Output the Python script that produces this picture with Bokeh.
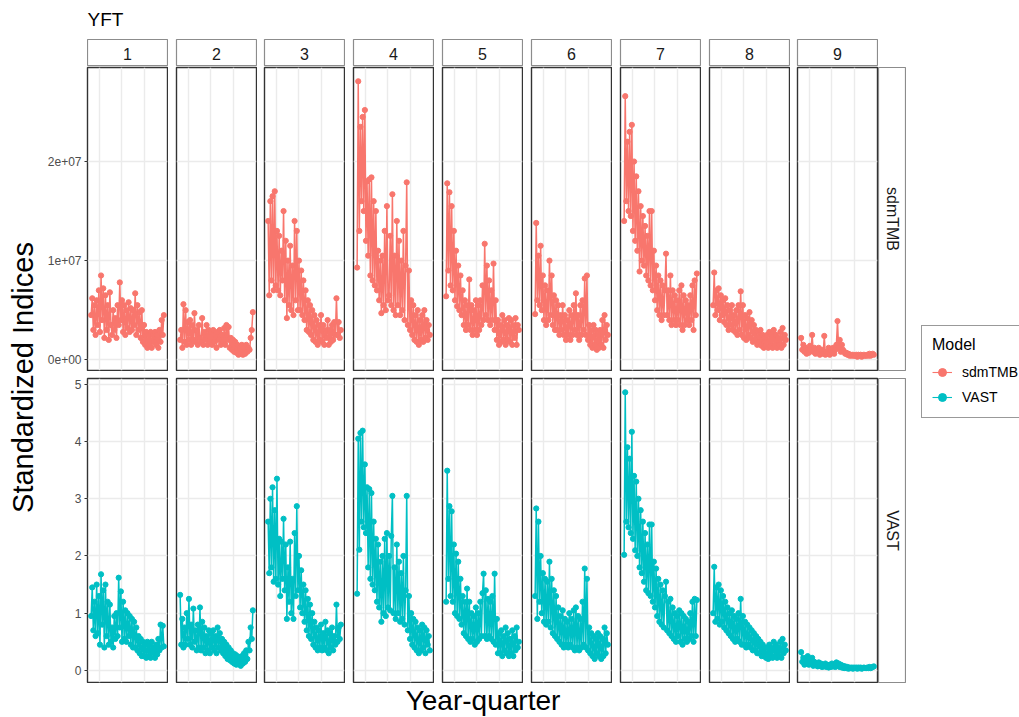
import math
from bokeh.plotting import figure
from bokeh.models import (Range1d, FixedTicker, Label, Legend, LegendItem, Spacer,
                          ColumnDataSource, Grid)
from bokeh.layouts import row, column
from bokeh.embed import file_html
from bokeh.resources import INLINE

# ---------------- data ----------------
YEARS = list(range(1952, 2019))          # one sample per year (year-quarter axis)
REGIONS = ["1", "2", "3", "4", "5", "6", "7", "8", "9"]
MODELS = ["sdmTMB", "VAST"]
SPECIES = "YFT"
SDM_UNIT = 1e7   # sdmTMB values below are given in units of 1e7

sdm_1 = [0.45, 0.62, 0.30, 0.55, 0.25, 0.60, 0.35, 0.70, 0.28,
         0.85, 0.40, 0.72, 0.22, 0.65, 0.30, 0.55, 0.20, 0.68, 0.35,
         0.25, 0.50, 0.30, 0.42, 0.22, 0.55, 0.35, 0.78, 0.40, 0.60,
         0.28, 0.55, 0.25, 0.50, 0.32, 0.58, 0.28, 0.52, 0.30, 0.50,
         0.35, 0.67, 0.25, 0.55, 0.30, 0.48, 0.22, 0.50, 0.18, 0.35,
         0.15, 0.28, 0.12, 0.25, 0.15, 0.28, 0.12, 0.25, 0.18, 0.28,
         0.15, 0.25, 0.12, 0.30, 0.18, 0.40, 0.25, 0.45]
sdm_2 = [0.20, 0.30, 0.12, 0.56, 0.18, 0.50, 0.15, 0.38, 0.20,
         0.40, 0.15, 0.35, 0.20, 0.47, 0.18, 0.30, 0.15, 0.35, 0.22,
         0.18, 0.42, 0.15, 0.28, 0.20, 0.35, 0.15, 0.30, 0.18, 0.28,
         0.15, 0.30, 0.18, 0.25, 0.12, 0.28, 0.20, 0.30, 0.15, 0.25,
         0.18, 0.32, 0.15, 0.35, 0.20, 0.33, 0.12, 0.22, 0.10, 0.20,
         0.08, 0.18, 0.07, 0.15, 0.05, 0.12, 0.06, 0.15, 0.05, 0.12,
         0.06, 0.15, 0.08, 0.12, 0.10, 0.22, 0.30, 0.48]
sdm_3 = [1.40, 0.65, 1.60, 0.80, 1.65, 0.70, 1.70, 0.75, 1.30,
         0.70, 1.25, 0.65, 1.10, 0.80, 1.50, 0.60, 1.20, 0.42, 1.00,
         0.55, 1.15, 0.50, 0.95, 0.45, 1.40, 0.60, 1.30, 0.50, 1.00,
         0.50, 0.90, 0.45, 0.80, 0.40, 0.70, 0.30, 0.60, 0.28, 0.55,
         0.25, 0.50, 0.20, 0.45, 0.18, 0.40, 0.15, 0.35, 0.20, 0.45,
         0.18, 0.35, 0.15, 0.30, 0.22, 0.40, 0.15, 0.30, 0.18, 0.35,
         0.20, 0.38, 0.25, 0.62, 0.25, 0.38, 0.22, 0.30]
sdm_4 = [0.93, 2.81, 1.30, 2.35, 1.60, 2.45, 1.50, 2.52, 1.20,
         1.80, 1.05, 1.82, 0.85, 1.84, 0.80, 1.60, 0.75, 1.50, 0.70,
         1.10, 0.60, 1.00, 0.47, 1.05, 0.55, 1.30, 0.50, 1.55, 0.60,
         0.65, 1.25, 0.55, 1.67, 0.50, 1.05, 0.45, 1.40, 0.55, 1.20,
         0.45, 1.00, 0.50, 1.30, 0.40, 0.95, 1.79, 0.35, 0.90, 0.30,
         0.60, 0.25, 0.55, 0.20, 0.45, 0.18, 0.50, 0.15, 0.40, 0.20,
         0.45, 0.18, 0.50, 0.22, 0.40, 0.20, 0.35, 0.25]
sdm_5 = [0.64, 1.78, 0.90, 1.69, 0.75, 1.55, 0.70, 1.30, 0.60,
         1.10, 0.54, 0.95, 0.50, 0.85, 0.45, 0.70, 0.35, 0.60, 0.30,
         0.55, 0.35, 0.81, 0.30, 0.55, 0.25, 0.50, 0.30, 0.60, 0.25,
         0.55, 0.30, 0.60, 0.35, 0.75, 0.40, 1.17, 0.45, 0.95, 0.40,
         0.80, 0.35, 0.70, 0.40, 0.97, 0.30, 0.60, 0.20, 0.40, 0.15,
         0.35, 0.18, 0.45, 0.20, 0.40, 0.15, 0.35, 0.20, 0.42, 0.18,
         0.40, 0.15, 0.35, 0.22, 0.42, 0.15, 0.35, 0.30]
sdm_6 = [0.46, 1.38, 0.60, 1.05, 0.55, 1.15, 0.50, 0.85, 0.40,
         0.75, 0.35, 0.70, 0.40, 1.00, 0.45, 0.85, 0.35, 0.65, 0.30,
         0.60, 0.30, 0.55, 0.25, 0.45, 0.30, 0.55, 0.25, 0.45, 0.20,
         0.40, 0.25, 0.50, 0.20, 0.45, 0.25, 0.55, 0.30, 0.67, 0.25,
         0.45, 0.20, 0.55, 0.25, 0.60, 0.30, 0.82, 0.25, 0.85, 0.20,
         0.35, 0.15, 0.30, 0.12, 0.35, 0.15, 0.30, 0.10, 0.25, 0.12,
         0.30, 0.15, 0.40, 0.12, 0.45, 0.20, 0.35, 0.25]
sdm_7 = [1.40, 2.66, 1.60, 2.20, 1.50, 2.30, 1.45, 2.37, 1.30,
         2.00, 1.20, 1.85, 1.10, 1.70, 0.89, 1.55, 1.00, 1.45, 0.95,
         1.35, 0.85, 1.25, 0.80, 1.50, 0.75, 1.50, 0.70, 1.10, 0.60,
         0.95, 0.50, 0.85, 0.45, 0.80, 0.40, 0.75, 0.45, 0.70, 1.07,
         0.45, 0.70, 0.40, 0.85, 0.35, 0.70, 0.40, 0.65, 0.35, 0.60,
         0.40, 0.70, 0.35, 0.75, 0.30, 0.65, 0.35, 0.60, 0.40, 0.55,
         0.35, 0.65, 0.40, 0.75, 0.30, 0.80, 0.45, 0.87]
sdm_8 = [0.55, 0.88, 0.45, 0.70, 0.50, 0.72, 0.40, 0.65, 0.45,
         0.60, 0.38, 0.62, 0.35, 0.55, 0.30, 0.50, 0.35, 0.55, 0.30,
         0.45, 0.28, 0.50, 0.25, 0.55, 0.30, 0.69, 0.25, 0.55, 0.22,
         0.45, 0.20, 0.42, 0.25, 0.48, 0.22, 0.40, 0.18, 0.35, 0.20,
         0.30, 0.15, 0.28, 0.18, 0.30, 0.14, 0.25, 0.12, 0.22, 0.14,
         0.25, 0.12, 0.28, 0.14, 0.25, 0.12, 0.30, 0.15, 0.25, 0.12,
         0.22, 0.15, 0.28, 0.12, 0.32, 0.15, 0.25, 0.20]
sdm_9 = [0.22, 0.10, 0.15, 0.08, 0.12, 0.06, 0.10, 0.07, 0.14,
         0.10, 0.25, 0.08, 0.12, 0.06, 0.10, 0.07, 0.12, 0.05, 0.09,
         0.10, 0.06, 0.24, 0.05, 0.08, 0.06, 0.12, 0.05, 0.10, 0.07,
         0.12, 0.06, 0.10, 0.15, 0.39, 0.12, 0.20, 0.08, 0.15, 0.10,
         0.08, 0.06, 0.07, 0.05, 0.06, 0.04, 0.05, 0.04, 0.05, 0.04,
         0.04, 0.05, 0.03, 0.05, 0.04, 0.05, 0.03, 0.04, 0.05, 0.04,
         0.04, 0.05, 0.04, 0.06, 0.04, 0.05, 0.06, 0.05]

vast_1 = [0.95, 1.45, 0.70, 1.20, 0.60, 1.50, 0.65, 1.30, 0.45,
          1.68, 0.80, 1.40, 0.40, 1.50, 0.60, 1.20, 0.45, 1.15, 0.50,
          0.75, 0.40, 0.95, 0.55, 1.00, 0.60, 1.62, 0.75, 1.38, 0.50,
          1.20, 0.55, 1.05, 0.50, 1.00, 0.60, 0.95, 0.45, 0.90, 0.40,
          0.85, 0.40, 0.75, 0.35, 0.60, 0.30, 0.55, 0.25, 0.50, 0.25,
          0.45, 0.22, 0.50, 0.25, 0.45, 0.22, 0.50, 0.30, 0.40, 0.22,
          0.45, 0.28, 0.55, 0.35, 0.80, 0.40, 0.78, 0.42]
vast_2 = [1.32, 0.45, 0.90, 0.40, 0.75, 0.45, 1.00, 0.55, 1.25,
          0.45, 0.80, 0.40, 1.08, 0.50, 0.70, 0.35, 0.80, 0.40, 1.10,
          0.35, 0.85, 0.40, 0.75, 0.30, 0.60, 0.35, 0.70, 0.30, 0.65,
          0.40, 0.70, 0.35, 0.60, 0.30, 0.75, 0.40, 0.65, 0.35, 0.55,
          0.30, 0.50, 0.25, 0.45, 0.20, 0.40, 0.18, 0.35, 0.15, 0.30,
          0.12, 0.28, 0.10, 0.25, 0.12, 0.22, 0.08, 0.25, 0.12, 0.30,
          0.15, 0.35, 0.20, 0.50, 0.35, 0.75, 0.55, 1.05]
vast_3 = [2.60, 1.70, 3.00, 1.80, 3.20, 1.55, 2.80, 1.60, 3.35,
          1.50, 2.30, 1.30, 2.25, 1.60, 2.65, 1.40, 2.20, 0.90, 1.80,
          1.20, 2.25, 1.00, 1.60, 0.90, 2.40, 1.30, 2.87, 1.40, 2.00,
          1.10, 1.75, 1.00, 1.50, 0.85, 1.40, 0.70, 1.25, 0.60, 1.15,
          0.55, 1.00, 0.45, 0.85, 0.40, 0.75, 0.35, 0.70, 0.40, 0.80,
          0.35, 0.65, 0.40, 0.85, 0.35, 0.70, 0.30, 0.65, 0.40, 0.75,
          0.35, 0.60, 0.45, 1.15, 0.50, 0.75, 0.55, 0.80]
vast_4 = [1.34, 4.05, 2.11, 4.15, 2.60, 4.19, 2.50, 3.60, 2.40,
          3.20, 1.80, 3.17, 1.60, 3.10, 1.50, 2.60, 1.40, 2.30, 1.20,
          2.20, 1.10, 1.90, 0.85, 2.00, 1.00, 2.30, 0.95, 2.40, 1.10,
          2.00, 1.05, 2.35, 3.05, 1.00, 1.80, 0.90, 2.20, 1.00, 1.90,
          0.85, 1.70, 0.90, 2.00, 0.80, 1.40, 3.05, 0.70, 1.30, 0.55,
          1.00, 0.45, 0.90, 0.40, 0.85, 0.35, 0.75, 0.30, 0.70, 0.35,
          0.80, 0.40, 0.75, 0.30, 0.70, 0.45, 0.60, 0.35]
vast_5 = [1.20, 3.49, 1.60, 2.87, 1.30, 2.78, 1.20, 2.20, 1.00,
          2.04, 0.95, 1.90, 0.90, 1.60, 0.80, 1.30, 0.65, 1.20, 0.60,
          1.43, 0.55, 1.20, 0.50, 1.00, 0.55, 0.95, 0.45, 1.10, 0.50,
          1.00, 0.55, 1.20, 0.60, 1.35, 1.69, 0.60, 1.40, 0.55, 1.25,
          0.60, 1.20, 0.55, 1.30, 0.50, 1.69, 0.45, 0.90, 0.30, 0.65,
          0.30, 0.70, 0.25, 0.60, 0.35, 0.75, 0.30, 0.65, 0.25, 0.55,
          0.30, 0.70, 0.25, 0.60, 0.35, 0.75, 0.40, 0.50]
vast_6 = [1.30, 2.83, 0.90, 2.60, 1.20, 2.00, 1.00, 1.70, 0.85,
          1.60, 0.80, 1.55, 0.85, 1.90, 0.75, 1.60, 0.65, 1.40, 0.60,
          1.30, 0.55, 1.10, 0.50, 0.95, 0.45, 1.05, 0.40, 0.90, 0.45,
          0.85, 0.40, 1.00, 0.45, 0.90, 0.40, 1.05, 0.35, 1.10, 0.40,
          0.95, 0.35, 0.90, 0.40, 1.20, 0.45, 1.78, 0.40, 1.60, 0.35,
          0.75, 0.30, 0.65, 0.25, 0.60, 0.20, 0.55, 0.30, 0.65, 0.25,
          0.60, 0.20, 0.55, 0.25, 0.75, 0.30, 0.65, 0.45]
vast_7 = [2.02, 4.86, 2.60, 3.90, 2.50, 3.70, 2.40, 4.17, 2.30,
          3.40, 2.10, 3.30, 2.00, 3.00, 1.80, 2.80, 1.70, 2.60, 1.55,
          2.40, 1.40, 2.20, 1.35, 2.55, 1.30, 2.55, 1.20, 1.90, 1.10,
          1.78, 0.95, 1.60, 0.85, 1.50, 0.80, 1.40, 0.75, 1.30, 1.55,
          0.70, 1.20, 0.65, 1.25, 0.60, 1.10, 0.55, 1.00, 0.50, 0.95,
          0.60, 1.05, 0.50, 1.00, 0.45, 0.95, 0.55, 0.90, 0.50, 0.85,
          0.55, 1.00, 0.60, 1.20, 0.50, 1.25, 0.60, 1.23]
vast_8 = [1.00, 1.81, 0.85, 1.45, 0.90, 1.50, 0.80, 1.40, 0.85,
          1.30, 0.75, 1.20, 0.70, 1.10, 0.65, 1.00, 0.60, 1.05, 0.55,
          0.95, 0.50, 0.90, 0.55, 1.00, 0.50, 1.25, 0.45, 0.95, 0.45,
          0.85, 0.40, 0.80, 0.45, 0.75, 0.40, 0.70, 0.35, 0.65, 0.35,
          0.60, 0.30, 0.55, 0.30, 0.50, 0.25, 0.45, 0.25, 0.40, 0.22,
          0.40, 0.20, 0.45, 0.25, 0.40, 0.22, 0.50, 0.25, 0.45, 0.22,
          0.40, 0.25, 0.50, 0.22, 0.55, 0.30, 0.45, 0.35]
vast_9 = [0.32, 0.15, 0.22, 0.10, 0.18, 0.12, 0.25, 0.10, 0.20,
          0.12, 0.22, 0.08, 0.15, 0.10, 0.12, 0.07, 0.14, 0.08, 0.12,
          0.06, 0.10, 0.07, 0.12, 0.06, 0.09, 0.05, 0.10, 0.06, 0.12,
          0.07, 0.10, 0.06, 0.14, 0.08, 0.12, 0.06, 0.10, 0.05, 0.08,
          0.04, 0.07, 0.04, 0.06, 0.03, 0.05, 0.04, 0.05, 0.03, 0.05,
          0.04, 0.05, 0.03, 0.05, 0.04, 0.05, 0.03, 0.04, 0.05, 0.04,
          0.04, 0.05, 0.04, 0.06, 0.04, 0.05, 0.06, 0.07]

SDM = [sdm_1, sdm_2, sdm_3, sdm_4, sdm_5, sdm_6, sdm_7, sdm_8, sdm_9]
VAST = [vast_1, vast_2, vast_3, vast_4, vast_5, vast_6, vast_7, vast_8, vast_9]

TOP_TICKS = [0, 10000000, 20000000]
TOP_TICK_LABELS = ["0e+00", "1e+07", "2e+07"]
BOTTOM_TICKS = [0, 1, 2, 3, 4, 5]
X_GRID = [1960, 1980, 2000]

# ---------------- style ----------------
FONT = "Liberation Sans"
COLORS = {"sdmTMB": "#F8766D", "VAST": "#00BFC4"}
GRID_C = "#EBEBEB"
BORDER_C = "#333333"
STRIP_C = "#8C8C8C"
GAPS = [0, 9, 8, 9, 9, 9, 9, 9, 8]
FRAME_W = 80
LEFT_AXIS = 47
YLAB_W = 40
MAIN_W = LEFT_AXIS + 9 * FRAME_W + 1 + sum(GAPS[1:])
PT_SIZE = 5.2
LN_W = 1.5


def padded(vals):
    lo, hi = min(vals), max(vals)
    pad = 0.05 * (hi - lo)
    return lo - pad, hi + pad


def base_fig(w, h, l, r, t, b, **kw):
    p = figure(width=w, height=h, output_backend="svg", toolbar_location=None,
               min_border_left=l, min_border_right=r, min_border_top=t, min_border_bottom=b,
               background_fill_color="white", border_fill_color="white", **kw)
    return p


def aux_fig(w, h, l=0, r=0, t=0, b=0):
    p = base_fig(w, h, l, r, t, b, x_range=Range1d(0, 1), y_range=Range1d(0, 1),
                 x_axis_location=None, y_axis_location=None)
    p.grid.visible = False
    p.outline_line_color = None
    return p


for arr in SDM + VAST:
    assert len(arr) == len(YEARS)

x_lo, x_hi = padded(YEARS)
sdm_all = [v * SDM_UNIT for a in SDM for v in a]
vast_all = [v for a in VAST for v in a]
top_lo, top_hi = padded(sdm_all)
bot_lo, bot_hi = padded(vast_all)


def panel(k, model, vals, top):
    if top:
        h, mbt, yr, yticks = 305, 1, Range1d(top_lo, top_hi), TOP_TICKS
    else:
        h, mbt, yr, yticks = 312, 7, Range1d(bot_lo, bot_hi), BOTTOM_TICKS
    if k == 0:
        w, mbl = LEFT_AXIS + FRAME_W + 1, LEFT_AXIS
    else:
        w, mbl = GAPS[k] + FRAME_W, GAPS[k] - 1
    p = base_fig(w, h, mbl, 1, mbt, 1, x_range=Range1d(x_lo, x_hi), y_range=yr,
                 x_axis_location=None, y_axis_location=("left" if k == 0 else None))
    p.grid.visible = False
    p.add_layout(Grid(dimension=0, ticker=FixedTicker(ticks=X_GRID),
                      grid_line_color=GRID_C, grid_line_width=1.4))
    p.add_layout(Grid(dimension=1, ticker=FixedTicker(ticks=yticks),
                      grid_line_color=GRID_C, grid_line_width=1.4))
    p.outline_line_color = BORDER_C
    p.outline_line_width = 1.4
    scale = SDM_UNIT if model == "sdmTMB" else 1.0
    src = ColumnDataSource(dict(x=YEARS, y=[v * scale for v in vals]))
    c = COLORS[model]
    p.line("x", "y", source=src, line_color=c, line_width=LN_W)
    p.scatter("x", "y", source=src, size=PT_SIZE, fill_color=c, line_color=c)
    if k == 0:
        ax = p.yaxis[0]
        ax.ticker = FixedTicker(ticks=yticks)
        if top:
            ax.major_label_overrides = dict(zip(TOP_TICKS, TOP_TICK_LABELS))
        ax.axis_line_color = None
        ax.major_tick_line_color = BORDER_C
        ax.major_tick_out = 3
        ax.major_tick_in = 0
        ax.minor_tick_line_color = None
        ax.major_label_standoff = 3
        ax.major_label_text_font = FONT
        ax.major_label_text_font_size = "12px"
        ax.major_label_text_color = "#4D4D4D"
    return p


# strips on top
strip_figs = [Spacer(width=LEFT_AXIS, height=28)]
for k, reg in enumerate(REGIONS):
    if k == 0:
        s = aux_fig(FRAME_W + 1, 28, 0, 1, 1, 0)
    else:
        s = aux_fig(GAPS[k] + FRAME_W, 28, GAPS[k] - 1, 1, 1, 0)
    s.outline_line_color = STRIP_C
    s.outline_line_width = 1.2
    s.add_layout(Label(x=0.5, y=0.45, text=reg, text_align="center", text_baseline="middle",
                       text_font=FONT, text_font_size="16px", text_color="#1A1A1A"))
    strip_figs.append(s)
strips_row = row(strip_figs)

top_row = row([panel(k, "sdmTMB", SDM[k], True) for k in range(9)])
bottom_row = row([panel(k, "VAST", VAST[k], False) for k in range(9)])

title_fig = aux_fig(MAIN_W, 38)
title_fig.add_layout(Label(x=LEFT_AXIS, y=19, x_units="screen", y_units="screen", text=SPECIES,
                           text_align="left", text_baseline="middle",
                           text_font=FONT, text_font_size="19px", text_color="#000000"))

xlab_fig = aux_fig(MAIN_W, 34)
xlab_fig.add_layout(Label(x=LEFT_AXIS + (MAIN_W - LEFT_AXIS) / 2, y=17, x_units="screen", y_units="screen",
                          text="Year-quarter", text_align="center", text_baseline="middle",
                          text_font=FONT, text_font_size="28px", text_color="#000000"))

ylab_fig = aux_fig(YLAB_W, 717)
ylab_fig.add_layout(Label(x=22, y=717 - 377, x_units="screen", y_units="screen",
                          text="Standardized Indices", angle=math.pi / 2,
                          text_align="center", text_baseline="middle",
                          text_font=FONT, text_font_size="29px", text_color="#000000"))

main_col = column(title_fig, strips_row, top_row, bottom_row, xlab_fig)

# right strips
rs_sdm = aux_fig(28, 305, 0, 1, 1, 1)
rs_vast = aux_fig(28, 312, 0, 1, 7, 1)
for s, name in ((rs_sdm, MODELS[0]), (rs_vast, MODELS[1])):
    s.outline_line_color = STRIP_C
    s.outline_line_width = 1.2
    s.add_layout(Label(x=0.5, y=0.5, text=name, angle=-math.pi / 2,
                       text_align="center", text_baseline="middle",
                       text_font=FONT, text_font_size="16px", text_color="#1A1A1A"))
right_col = column(Spacer(width=28, height=66), rs_sdm, rs_vast, Spacer(width=28, height=34))

# legend: figure whose range (0..1) lies outside the data, so the series themselves are clipped
leg_fig = base_fig(113, 717, 0, 0, 0, 0, x_range=Range1d(0, 1), y_range=Range1d(0, 1),
                   x_axis_location=None, y_axis_location=None)
leg_fig.grid.visible = False
leg_fig.outline_line_color = None
items = []
for m, series in ((MODELS[0], sdm_1), (MODELS[1], vast_1)):
    lsrc = ColumnDataSource(dict(x=YEARS, y=series))
    lr = leg_fig.line("x", "y", source=lsrc, line_color=COLORS[m], line_width=1.1)
    sr = leg_fig.scatter("x", "y", source=lsrc, size=4.2, fill_color=COLORS[m], line_color=COLORS[m])
    items.append(LegendItem(label=m, renderers=[lr, sr]))
legend = Legend(items=items, location=(15, 299), title="Model",
                title_text_font=FONT, title_text_font_size="16px", title_text_font_style="normal",
                title_text_color="#000000", title_standoff=8,
                label_text_font=FONT, label_text_font_size="14px", label_text_color="#000000",
                border_line_color="#333333", border_line_width=1.2, background_fill_color="white",
                background_fill_alpha=1.0, padding=10, spacing=5, margin=0,
                label_height=20, glyph_width=20, glyph_height=20, label_standoff=10)
leg_fig.add_layout(legend)

root = row(ylab_fig, main_col, right_col, leg_fig)

open("out.html", "w").write(file_html(root, INLINE, "YFT standardized indices"))
